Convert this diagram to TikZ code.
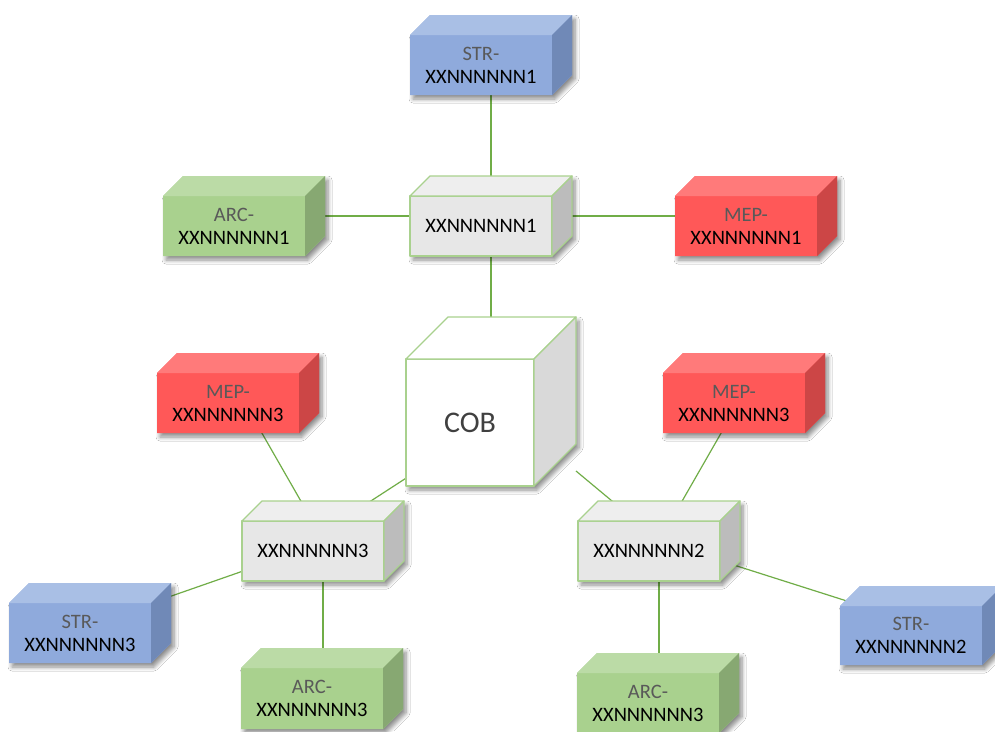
\documentclass[tikz,border=0pt]{standalone}
\usepackage{fontspec}
\setmainfont{Carlito}
\usetikzlibrary{calc,backgrounds,shadows.blur}

% face colours: F = front, T = top, S = side
\definecolor{strF}{HTML}{8FAADC}
\definecolor{strT}{HTML}{A9BFE5}
\definecolor{strS}{HTML}{7089B7}
\definecolor{arcF}{HTML}{A9D18E}
\definecolor{arcT}{HTML}{BBDBA6}
\definecolor{arcS}{HTML}{87A872}
\definecolor{mepF}{HTML}{FF5858}
\definecolor{mepT}{HTML}{FF7A7A}
\definecolor{mepS}{HTML}{CC4646}
\definecolor{ctrF}{HTML}{E7E7E7}
\definecolor{ctrT}{HTML}{EEEEEE}
\definecolor{ctrS}{HTML}{BCBCBC}
\definecolor{cobF}{HTML}{FFFFFF}
\definecolor{cobT}{HTML}{FFFFFF}
\definecolor{cobS}{HTML}{D9D9D9}
\definecolor{edgegreen}{HTML}{A9D18E}
\definecolor{linkgreen}{HTML}{70AD47}
\definecolor{prefixgray}{HTML}{595959}
\definecolor{cobtext}{HTML}{404040}

\tikzset{
  boxshadow/.style={blur shadow={shadow xshift=3pt, shadow yshift=-4pt,
      shadow blur radius=4pt, shadow blur steps=6, shadow opacity=45}},
  stredge/.style={draw=none},
  arcedge/.style={draw=none},
  mepedge/.style={draw=none},
  ctredge/.style={draw=edgegreen, line width=1.3pt, line join=round},
  cobedge/.style={draw=edgegreen, line width=1.3pt, line join=round},
  boxtext/.style={font=\fontsize{20.5}{23}\selectfont, align=center, text=black},
  linkline/.style={draw=linkgreen, line width=1.2pt},
}

% #1 name, #2 colour scheme, #3 x, #4 y (front face, top-left),
% #5 width, #6 height, #7 depth, #8 text
\newcommand\cuboid[8]{%
  \path[boxshadow, fill=#2F] (#3,#4) -- ++(#7,-#7) -- ++(#5,0) -- ++(0,#6)
    -- ++(-#7,#7) -- ++(-#5,0) -- cycle;
  \node[#2edge, fill=#2F, minimum width=#5pt, minimum height=#6pt,
    inner sep=0pt, outer sep=0pt, anchor=north west, boxtext] (#1) at (#3,#4) {#8};
  \path[#2edge, fill=#2T] (#1.north west) -- ++(#7,-#7) -- ++(#5,0)
    -- (#1.north east) -- cycle;
  \path[#2edge, fill=#2S] (#1.north east) -- ++(#7,-#7) -- ++(0,#6)
    -- (#1.south east) -- cycle;
}
\newcommand\pre[1]{\textcolor{prefixgray}{#1}}

\begin{document}
\begin{tikzpicture}[x=1pt, y=-1pt]
\useasboundingbox (0,0) rectangle (995,731);

% top row
\cuboid{str1}{str}{410}{35}{142}{60}{20}{\pre{STR-}\\XXNNNNNN1}
\cuboid{c1}{ctr}{410}{196}{142}{60}{20}{XXNNNNNN1}
\cuboid{arc1}{arc}{163}{196}{142}{60}{20}{\pre{ARC-}\\XXNNNNNN1}
\cuboid{mep1}{mep}{675}{196}{142}{60}{20}{\pre{MEP-}\\XXNNNNNN1}

% centre
\cuboid{cob}{cob}{406}{359}{128}{127}{42}{\fontsize{30}{36}\selectfont\textcolor{cobtext}{COB}}

% lower left group
\cuboid{mep3l}{mep}{157}{373}{142}{60}{20}{\pre{MEP-}\\XXNNNNNN3}
\cuboid{c3}{ctr}{242}{521}{142}{60}{20}{XXNNNNNN3}
\cuboid{str3}{str}{9}{603}{142}{60}{20}{\pre{STR-}\\XXNNNNNN3}
\cuboid{arc3l}{arc}{241}{668}{142}{61}{20}{\pre{ARC-}\\XXNNNNNN3}

% lower right group
\cuboid{mep3r}{mep}{663}{373}{142}{60}{20}{\pre{MEP-}\\XXNNNNNN3}
\cuboid{c2}{ctr}{578}{521}{142}{60}{20}{XXNNNNNN2}
\cuboid{str2}{str}{840}{606}{142}{59}{20}{\pre{STR-}\\XXNNNNNN2}
\cuboid{arc3r}{arc}{577}{673}{142}{60}{20}{\pre{ARC-}\\XXNNNNNN3}

\begin{pgfonlayer}{background}
  \fill[white] (0,0) rectangle (995,731);
  % connectors run under the boxes
  \draw[linkline] ($(str1.south west)+(81,-5)$) -- ($(c1.north west)+(81,-5)$);
  \draw[linkline] ($(arc1.north east)+(5,20)$) -- ($(c1.north west)+(5,20)$);
  \draw[linkline] ($(c1.north east)+(5,20)$) -- ($(mep1.north west)+(5,20)$);
  \draw[linkline] ($(c1.south west)+(81,-5)$) -- ($(cob.north west)+(85,-10)$);
  \draw[linkline] ($(cob.south west)+(28,-26)$) -- ($(c3.north west)+(98,0)$);
  \draw[linkline] ($(cob.south east)+(42,-15)$) -- ($(c2.north west)+(58,0)$);
  \draw[linkline] ($(mep3l.south west)+(102,-5)$) -- ($(c3.north west)+(64,-11)$);
  \draw[linkline] ($(mep3r.south west)+(61,-5)$) -- ($(c2.north west)+(99,-11)$);
  \draw[linkline] ($(c3.north west)+(8,47.6)$) -- ($(str3.north east)+(9,-3)$);
  \draw[linkline] ($(c3.south west)+(81,-5)$) -- ($(arc3l.north west)+(82,-8)$);
  \draw[linkline] ($(c2.north east)+(10,42.8)$) -- ($(str2.north west)+(10,-4)$);
  \draw[linkline] ($(c2.south west)+(81,-5)$) -- ($(arc3r.north west)+(82,-8)$);
\end{pgfonlayer}
\end{tikzpicture}
\end{document}
